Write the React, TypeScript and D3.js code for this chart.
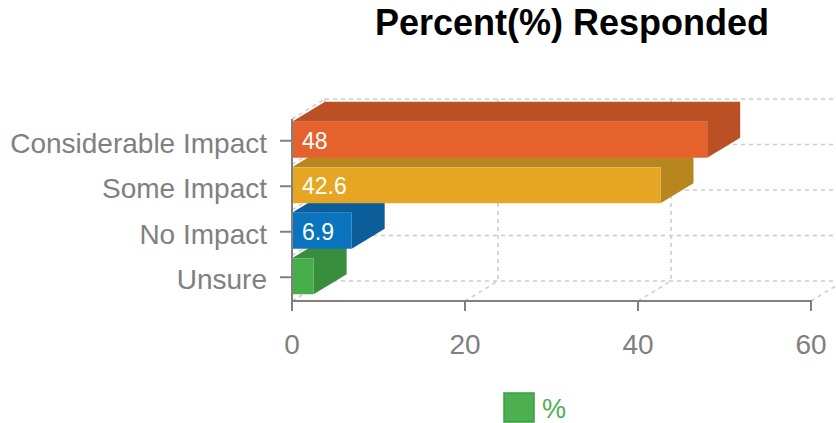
import React, { useEffect, useRef } from "react";
import * as d3 from "d3";

const categories = ["Considerable Impact", "Some Impact", "No Impact", "Unsure"];
const values = [48, 42.6, 6.9, 2.5];
const frontColors = ["#E6622D", "#E6A623", "#0B74BF", "#45AE48"];
const sideColors = ["#BA5023", "#B8861F", "#0B5E99", "#388E3C"];
const xTicks = [0, 20, 40, 60];
const title = "Percent(%) Responded";
const seriesName = "%";

const width = 836;
const height = 423;
const depthX = 33;
const depthY = -20;
const font = "'Liberation Sans', Arial, Helvetica, sans-serif";

const App = () => {
  const ref = useRef<SVGSVGElement>(null);

  function drawChart() {
    const svg = d3.select(ref.current);
    svg.selectAll("*").remove();

    const x = d3.scaleLinear().domain([0, 60]).range([292, 811]);
    const y = d3.scaleBand().domain(categories).range([119, 301]);
    const barY = d3.scaleBand().domain(categories).range([119, 301]).paddingInner(0.21).paddingOuter(0.105);

    const grid = svg
      .append("g")
      .attr("stroke", "#cccccc")
      .attr("stroke-width", 1.5)
      .attr("stroke-dasharray", "4,4")
      .attr("fill", "none");

    const bounds = categories.map((c) => y(c) as number).concat([y.range()[1]]);
    // back wall horizontal lines
    grid
      .selectAll(".hb")
      .data(bounds)
      .join("line")
      .attr("x1", x(0) + depthX)
      .attr("x2", x(60) + depthX)
      .attr("y1", (d) => d + depthY)
      .attr("y2", (d) => d + depthY);
    // left wall slants
    grid
      .selectAll(".lw")
      .data(bounds)
      .join("line")
      .attr("x1", x(0))
      .attr("x2", x(0) + depthX)
      .attr("y1", (d) => d)
      .attr("y2", (d) => d + depthY);
    // back wall verticals
    grid
      .selectAll(".vb")
      .data(xTicks)
      .join("line")
      .attr("x1", (d) => x(d) + depthX)
      .attr("x2", (d) => x(d) + depthX)
      .attr("y1", y.range()[0] + depthY)
      .attr("y2", y.range()[1] + depthY);
    // floor slants
    grid
      .selectAll(".fl")
      .data(xTicks)
      .join("line")
      .attr("x1", (d) => x(d))
      .attr("x2", (d) => x(d) + depthX)
      .attr("y1", y.range()[1])
      .attr("y2", y.range()[1] + depthY);

    const data = categories.map((c, i) => ({ name: c, value: values[i], front: frontColors[i], side: sideColors[i] }));

    // draw bottom bars first so upper bars overlap their top faces
    const bars = svg
      .append("g")
      .selectAll("g")
      .data(data.slice().reverse())
      .join("g");

    const shift = -2;
    bars
      .append("path")
      .attr("fill", (d) => d.side)
      .attr("d", (d) => {
        const x0 = x(0);
        const x1 = x(d.value);
        const t = (barY(d.name) as number) + shift;
        const b = t + barY.bandwidth();
        return `M${x0},${t}L${x1},${t}L${x1 + depthX},${t + depthY}L${x0 + depthX},${t + depthY}Z` +
          `M${x1},${t}L${x1 + depthX},${t + depthY}L${x1 + depthX},${b + depthY}L${x1},${b}Z`;
      });
    bars
      .append("rect")
      .attr("fill", (d) => d.front)
      .attr("x", x(0))
      .attr("y", (d) => (barY(d.name) as number) + shift)
      .attr("width", (d) => x(d.value) - x(0))
      .attr("height", barY.bandwidth());
    bars
      .filter((d) => d.value > 5)
      .append("text")
      .attr("x", x(0) + 10)
      .attr("y", (d) => (barY(d.name) as number) + shift + barY.bandwidth() / 2 + 9)
      .attr("fill", "#ffffff")
      .attr("font-family", font)
      .attr("font-size", 23)
      .text((d) => d.value);

    // axes
    const axis = svg.append("g").attr("stroke", "#808080").attr("stroke-width", 2);
    axis.append("line").attr("x1", x(0)).attr("x2", x(0)).attr("y1", y.range()[0]).attr("y2", y.range()[1] + 1);
    axis.append("line").attr("x1", x(0) - 1).attr("x2", x(60) + 1).attr("y1", y.range()[1]).attr("y2", y.range()[1]);
    axis
      .selectAll(".yt")
      .data(categories)
      .join("line")
      .attr("x1", x(0) - 12)
      .attr("x2", x(0))
      .attr("y1", (d) => (y(d) as number) + y.bandwidth() / 2 - 1)
      .attr("y2", (d) => (y(d) as number) + y.bandwidth() / 2 - 1);
    axis
      .selectAll(".xt")
      .data(xTicks)
      .join("line")
      .attr("x1", (d) => x(d))
      .attr("x2", (d) => x(d))
      .attr("y1", y.range()[1])
      .attr("y2", y.range()[1] + 10);

    svg
      .append("g")
      .attr("fill", "#808080")
      .attr("font-family", font)
      .attr("font-size", 28)
      .attr("text-anchor", "end")
      .selectAll("text")
      .data(categories)
      .join("text")
      .attr("x", x(0) - 25)
      .attr("y", (d) => (y(d) as number) + y.bandwidth() / 2 + 11)
      .text((d) => d);

    svg
      .append("g")
      .attr("fill", "#808080")
      .attr("font-family", font)
      .attr("font-size", 28)
      .attr("text-anchor", "middle")
      .selectAll("text")
      .data(xTicks)
      .join("text")
      .attr("x", (d) => x(d))
      .attr("y", 354)
      .text((d) => d);

    svg
      .append("text")
      .attr("x", 572)
      .attr("y", 35)
      .attr("text-anchor", "middle")
      .attr("font-family", font)
      .attr("font-size", 36)
      .attr("font-weight", "bold")
      .attr("fill", "#000000")
      .text(title);

    // legend
    const legend = svg.append("g");
    legend
      .append("rect")
      .attr("x", 504)
      .attr("y", 393)
      .attr("width", 30)
      .attr("height", 29)
      .attr("fill", "#4CAF50")
      .attr("stroke", "#3E9E42")
      .attr("stroke-width", 1.5);
    legend
      .append("text")
      .attr("x", 542)
      .attr("y", 418)
      .attr("font-family", font)
      .attr("font-size", 27)
      .attr("fill", "#4CAF50")
      .text(seriesName);
  }

  useEffect(() => {
    document.body.style.margin = "0";
    drawChart();
  }, []);

  return <svg ref={ref} width={width} height={height} style={{ display: "block" }}></svg>;
};

export default App;
